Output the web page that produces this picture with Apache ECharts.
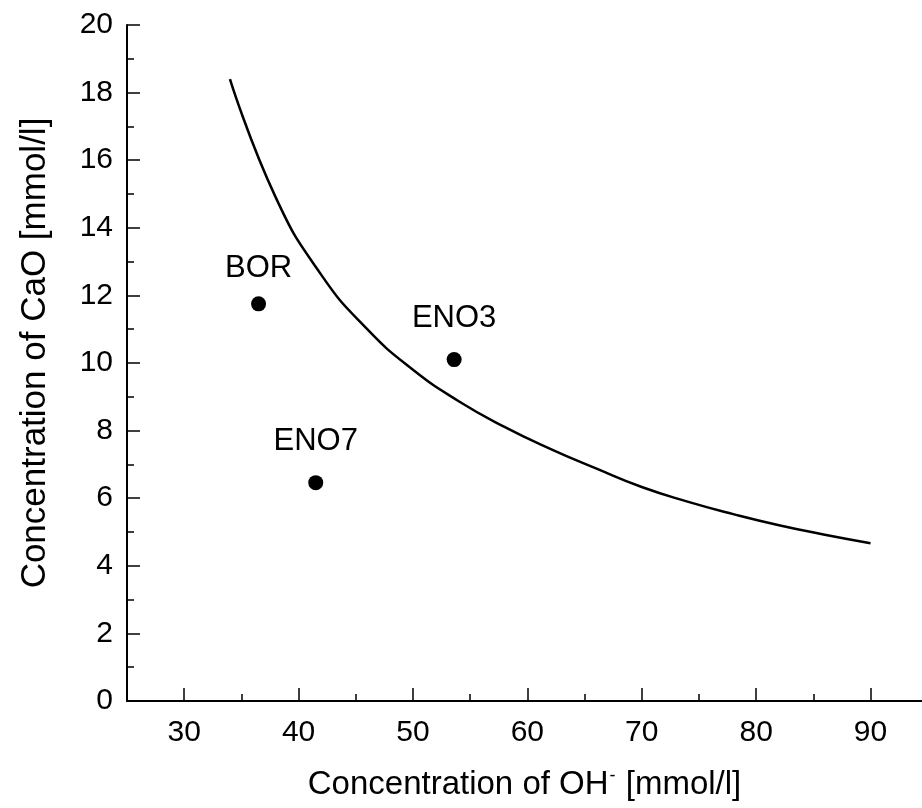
<!DOCTYPE html>
<html>
<head>
<meta charset="utf-8">
<script src="https://cdn.jsdelivr.net/npm/echarts@6/dist/echarts.min.js"></script>
<style>html,body{margin:0;padding:0;background:#fff}#c{width:922px;height:808px}</style>
</head>
<body>
<div id="c"></div>
<script>
// Curve
const curveX = [34, 38, 42, 46, 50, 54, 58, 62, 66, 70, 74, 78, 82, 86, 90];
const curveY = [18.4, 14.9, 12.6, 11.0, 9.8, 8.87, 8.11, 7.46, 6.88, 6.33, 5.9, 5.53, 5.2, 4.92, 4.67];
// Samples
const sampleNames = ['BOR', 'ENO3', 'ENO7'];
const sampleOH = [36.5, 53.6, 41.5];
const sampleCaO = [11.75, 10.1, 6.46];
// Tick labels
const xMajorTicks = [30, 40, 50, 60, 70, 80, 90];
const xMinorTicks = [35, 45, 55, 65, 75, 85];

const font = 'Liberation Sans, Arial, sans-serif';
const labelOffsets = {BOR: [0, 6], ENO3: [0, 0], ENO7: [0, 0]};

const chart = echarts.init(document.getElementById('c'));
const lineCol = {color: '#000', width: 2};
chart.setOption({
  animation: false,
  backgroundColor: '#fff',
  grid: {left: 127, top: 25, right: 0, bottom: 107, containLabel: false},
  xAxis: [{
    type: 'value', min: 25, max: 94.5, position: 'bottom',
    axisLine: {show: true, onZero: false, lineStyle: lineCol},
    axisTick: {show: true, inside: true, length: 13, customValues: xMajorTicks, lineStyle: {color: '#000', width: 1.5}},
    splitLine: {show: false},
    axisLabel: {color: '#000', fontSize: 30, fontFamily: font, margin: 17, customValues: xMajorTicks},
    name: '{a|Concentration of OH}{s|-}{a| [mmol/l]}',
    nameLocation: 'middle', nameGap: 66,
    nameTextStyle: {
      rich: {
        a: {fontSize: 33, fontFamily: font, color: '#000'},
        s: {fontSize: 18, fontFamily: font, color: '#000', padding: [0, 1, 18, 1]}
      }
    }
  }, {
    type: 'value', min: 25, max: 94.5, position: 'bottom', offset: 0,
    axisLine: {show: false},
    axisTick: {show: true, inside: true, length: 7, customValues: xMinorTicks, lineStyle: {color: '#000', width: 1.5}},
    axisLabel: {show: false},
    splitLine: {show: false}
  }],
  yAxis: {
    type: 'value', min: 0, max: 20, interval: 2,
    axisLine: {show: true, onZero: false, lineStyle: lineCol},
    axisTick: {show: true, inside: true, length: 13, lineStyle: {color: '#000', width: 1.5}},
    minorTick: {show: true, splitNumber: 2, length: 7, lineStyle: {color: '#000', width: 1.5}},
    splitLine: {show: false},
    axisLabel: {color: '#000', fontSize: 30, fontFamily: font, margin: 14},
    name: 'Concentration of CaO [mmol/l]',
    nameLocation: 'middle', nameGap: 74,
    nameTextStyle: {color: '#000', fontSize: 35, fontFamily: font, padding: [0, 0, 0, 20]}
  },
  series: [
    {
      type: 'line',
      data: curveX.map((x, i) => [x, curveY[i]]),
      smooth: 0.5,
      showSymbol: false,
      lineStyle: {color: '#000', width: 2.5}
    },
    {
      type: 'scatter',
      data: sampleNames.map((n, i) => ({
        name: n, value: [sampleOH[i], sampleCaO[i]],
        label: {offset: labelOffsets[n]}
      })),
      symbolSize: 15,
      itemStyle: {color: '#000', opacity: 1},
      label: {
        show: true, position: 'top', distance: 18,
        formatter: p => p.name,
        color: '#000', fontSize: 31, fontFamily: font
      }
    }
  ]
});
</script>
</body>
</html>
